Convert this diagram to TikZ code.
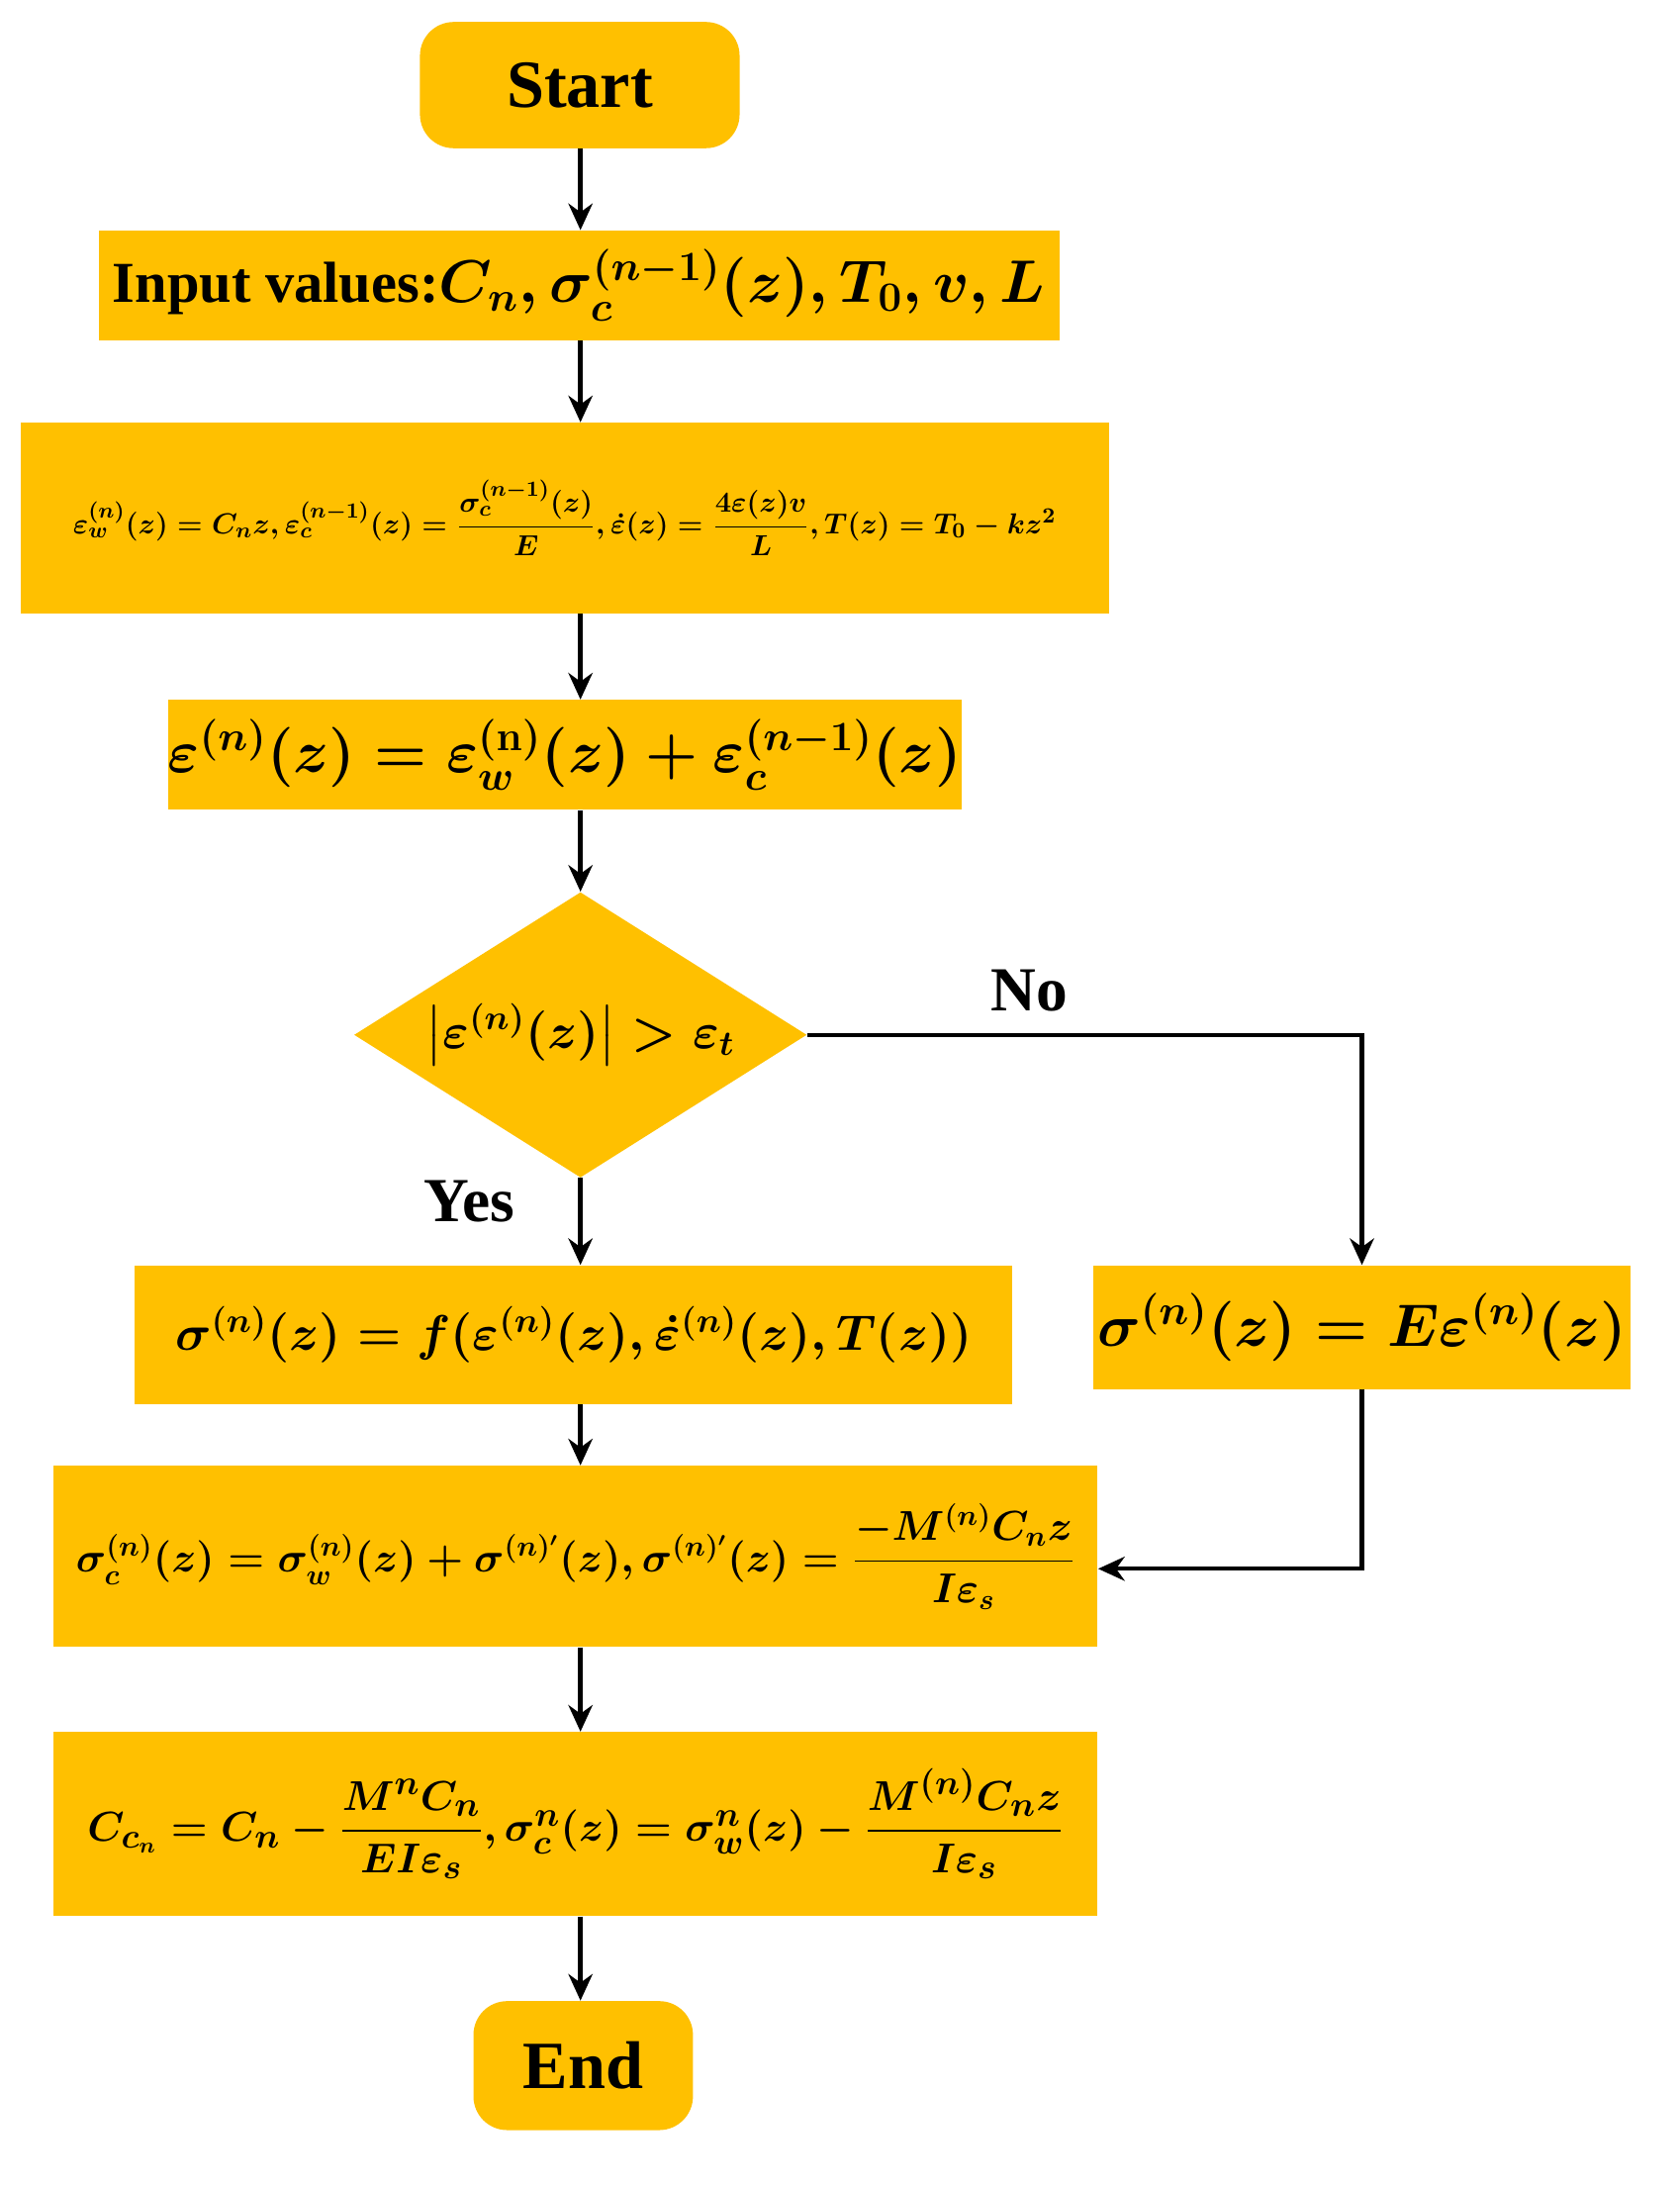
\documentclass[tikz,border=0pt]{standalone}
\usepackage{amsmath}
\usepackage{fontspec}
\setmainfont{Liberation Serif}
\usetikzlibrary{shapes.geometric,arrows.meta}
\definecolor{og}{HTML}{FFC000}
\tikzset{
 box/.style={fill=og,draw=none,inner sep=0pt,align=center,font=\bfseries\boldmath},
 rbox/.style={box,rounded corners=14pt},
 arr/.style={-{Stealth[length=11pt,width=10pt]},line width=1.8pt},
 lbl/.style={font=\bfseries\fontsize{26}{30}\selectfont}
}
\begin{document}
\begin{tikzpicture}[x=0.02cm,y=-0.02cm]
\useasboundingbox (0,0) rectangle (1224,1592);
\node[rbox,minimum width=4.66cm,minimum height=1.84cm,font=\bfseries\fontsize{28}{32}\selectfont] (start) at (422.5,62) {Start};
\node[box,minimum width=14cm,minimum height=1.6cm,font=\bfseries\boldmath\fontsize{24}{28}\selectfont] (in) at (422,208) {Input values:$C_n,\sigma_c^{(n-1)}(z),T_0,v,L$};
\node[box,minimum width=15.86cm,minimum height=2.78cm,font=\bfseries\boldmath\fontsize{12.6}{15}\selectfont] (b3) at (411.5,377.5) {$\varepsilon_w^{(n)}(z)=C_nz,\varepsilon_c^{(n-1)}(z)=\dfrac{\sigma_c^{(n-1)}(z)}{E},\dot\varepsilon(z)=\dfrac{4\varepsilon(z)v}{L},T(z)=T_0-kz^2$};
\node[box,minimum width=10.26cm,minimum height=1.6cm,font=\bfseries\boldmath\fontsize{24}{28}\selectfont] (b4) at (411.5,550) {$\varepsilon^{(n)}(z)=\varepsilon_w^{(\mathbf{n})}(z)+\varepsilon_c^{(n-1)}(z)$};
\node[diamond,fill=og,inner sep=0pt,minimum width=6.6cm,minimum height=4.16cm,shape aspect=1.59,font=\boldmath\fontsize{22}{26}\selectfont] (d) at (423,754) {$\left|\varepsilon^{(n)}(z)\right|>\varepsilon_t$};
\node[box,minimum width=12.8cm,minimum height=2.02cm,font=\bfseries\boldmath\fontsize{22}{26}\selectfont] (b5) at (418,972.5) {$\sigma^{(n)}(z)=f(\varepsilon^{(n)}(z),\dot\varepsilon^{(n)}(z),T(z))$};
\node[box,minimum width=7.82cm,minimum height=1.8cm,font=\bfseries\boldmath\fontsize{23}{27}\selectfont] (b5r) at (992.5,967) {$\sigma^{(n)}(z)=E\varepsilon^{(n)}(z)$};
\node[box,minimum width=15.22cm,minimum height=2.64cm,font=\bfseries\boldmath\fontsize{17}{20}\selectfont] (b6) at (419.5,1134) {$\sigma_c^{(n)}(z)=\sigma_w^{(n)}(z)+\sigma^{(n)'}(z),\sigma^{(n)'}(z)=\dfrac{-M^{(n)}C_nz}{I\varepsilon_s}$};
\node[box,minimum width=15.22cm,minimum height=2.68cm,font=\bfseries\boldmath\fontsize{19}{23}\selectfont] (b7) at (419.5,1329) {$C_{c_n}=C_n-\dfrac{M^nC_n}{EI\varepsilon_s},\sigma_c^n(z)=\sigma_w^n(z)-\dfrac{M^{(n)}C_nz}{I\varepsilon_s}$};
\node[rbox,minimum width=3.2cm,minimum height=1.88cm,font=\bfseries\fontsize{28}{32}\selectfont] (end) at (425,1505) {End};
\draw[arr] (start.south -| d.north) -- (in.north -| d.north);
\draw[arr] (in.south -| d.north) -- (b3.north -| d.north);
\draw[arr] (b3.south -| d.north) -- (b4.north -| d.north);
\draw[arr] (b4.south -| d.north) -- (d.north);
\draw[arr] (d.south) -- (b5.north -| d.south);
\draw[arr] (b5.south -| d.south) -- (b6.north -| d.south);
\draw[arr] (b6.south -| d.south) -- (b7.north -| d.south);
\draw[arr] (b7.south -| d.south) -- (end.north -| d.south);
\draw[arr] (d.east) -| (b5r.north);
\coordinate (c6) at (b6.east |- 0,1143);
\draw[arr] (b5r.south) |- (c6);
\node[lbl] (no) at (750,722) {No};
\node[lbl] (yes) at (342,875) {Yes};
\end{tikzpicture}
\end{document}
